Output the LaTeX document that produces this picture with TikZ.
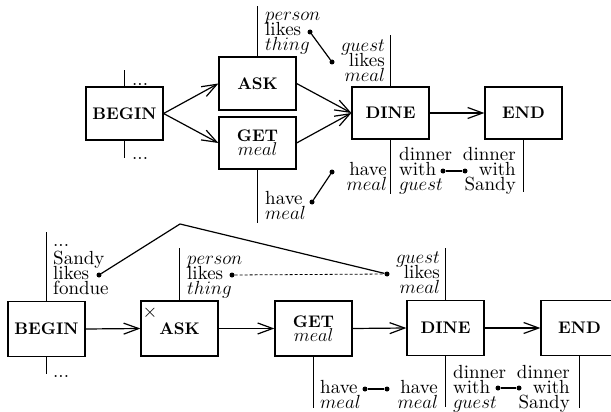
\RequirePackage{fix-cm}
\documentclass[tikz,border=0pt]{standalone}
\usepackage{fontspec}
\setmainfont{lmroman10-regular.otf}[BoldFont=lmroman10-bold.otf]
\usetikzlibrary{arrows.meta}
\newcommand\var[1]{{\fontencoding{OML}\fontfamily{cmm}\fontseries{m}\fontshape{it}\selectfont #1}}
\newcommand\lblfont{\fontsize{19}{15}\selectfont\lineskiplimit=-\maxdimen}
\newcommand\boxfont{\fontsize{16.8}{17}\selectfont\bfseries\lineskiplimit=-\maxdimen}
\newcommand\boxvar[1]{{\fontsize{18.5}{15}\selectfont\mdseries\var{#1}}}
\newcommand\ts{\rule{0pt}{13.5pt}}
\tikzset{
  box/.style={draw, line width=1.2pt, minimum width=77pt, minimum height=53pt, inner sep=0pt, font=\boxfont, align=center},
  lbl/.style={inner sep=0pt, font=\lblfont, anchor=north west, align=left},
  lblr/.style={inner sep=0pt, font=\lblfont, anchor=north east, align=right},
  dots/.style={inner sep=0pt, font=\lblfont, anchor=base west},
  dotn/.style={circle, fill, inner sep=0pt, minimum size=5pt},
  flow/.style={-{Straight Barb[length=15pt,width=11pt,line width=1.2pt]}, line width=1.2pt},
  tick/.style={line width=1.2pt},
  link/.style={line width=1.2pt},
  dlink/.style={line width=0.8pt, dash pattern=on 3pt off 2pt}
}
\begin{document}
\begin{tikzpicture}[x=1pt,y=-1pt]
\useasboundingbox (0,0) rectangle (611,412);
% ---------- top diagram ----------
\node[box] (BEGIN1) at (124.5,113.5) {BEGIN};
\node[box] (ASK1) at (257.5,83.5) {ASK};
\node[box, minimum height=52pt] (GET1) at (257.5,143) {GET\\[-3pt]\boxvar{meal}};
\node[box, minimum height=52pt] (DINE1) at (390.5,113) {DINE};
\node[box, minimum height=52pt] (END1) at (523.5,113) {END};

\draw[flow] (BEGIN1.east) -- (ASK1.west);
\draw[flow] (BEGIN1.east) -- (GET1.west);
\draw[flow] (ASK1.east) -- (DINE1.west);
\draw[flow] (GET1.east) -- (DINE1.west);
\draw[flow] (DINE1.east) -- (END1.west);

\draw[tick] (BEGIN1.north) -- +(0,-16);
\draw[tick] (BEGIN1.south) -- +(0,17);
\draw[tick] (ASK1.north) -- +(0,-50);
\draw[tick] (GET1.south) -- +(0,53);
\draw[tick] (DINE1.north) -- +(0,-51);
\draw[tick] (DINE1.south) -- +(0,54);
\draw[tick] (END1.south) -- +(0,52);

\node[dots] (bd1) at (132,86) {...};
\node[dots] (bd2) at (132,159) {...};
\node[lbl] (pA1) at (265,6.5) {\ts\var{person}\\likes\\\var{thing}};
\node[lblr] (gD1) at (385,38) {\ts\var{guest}\\likes\\\var{meal}};
\node[lbl] (hG1) at (265,191) {\ts have\\\var{meal}};
\node[lblr] (hD1) at (387,162) {\ts have\\\var{meal}};
\node[lbl] (wD1) at (399,147) {\ts dinner\\with\\\var{guest}};
\node[lblr] (wE1) at (516,147) {\ts dinner\\with\\Sandy};

\node[dotn] (d1) at (310,32) {};
\node[dotn] (d2) at (332,62) {};
\node[dotn] (d3) at (312,202) {};
\node[dotn] (d4) at (332,172) {};
\node[dotn] (d5) at (443,171) {};
\node[dotn] (d6) at (465,171) {};
\draw[link] (d1) -- (d2);
\draw[link] (d3) -- (d4);
\draw[link] (d5) -- (d6);

% ---------- bottom diagram ----------
\node[box, minimum height=55pt] (BEGIN2) at (46.5,329) {BEGIN};
\node[box, minimum height=55pt] (ASK2) at (179.5,328.5) {\raisebox{-3pt}{ASK}};
\node[box, minimum height=55pt] (GET2) at (313.5,328.5) {GET\\[-3pt]\boxvar{meal}};
\node[box, minimum height=55pt] (DINE2) at (445.5,328) {DINE};
\node[box, minimum height=55pt] (END2) at (579.5,328) {END};
\node[inner sep=0pt, font=\lblfont] (x2) at (150,313) {$\times$};

\draw[flow] (BEGIN2.east) -- (ASK2.west);
\draw[flow] (ASK2.east) -- (GET2.west);
\draw[flow] (GET2.east) -- (DINE2.west);
\draw[flow] (DINE2.east) -- (END2.west);

\draw[tick] (BEGIN2.north) -- +(0,-69);
\draw[tick] (BEGIN2.south) -- +(0,17);
\draw[tick] (ASK2.north) -- +(0,-52);
\draw[tick] (GET2.south) -- +(0,51);
\draw[tick] (DINE2.north) -- +(0,-52);
\draw[tick] (DINE2.south) -- +(0,51);
\draw[tick] (END2.south) -- +(0,52);

\node[dots] (bd3) at (53,246) {...};
\node[dots] (bd4) at (53,377) {...};
\node[lbl] (sB2) at (53,250.5) {\ts Sandy\\likes\\fondue};
\node[lbl] (pA2) at (187,250.5) {\ts\var{person}\\likes\\\var{thing}};
\node[lblr] (gD2) at (440,249.5) {\ts\var{guest}\\likes\\\var{meal}};
\node[lbl] (hG2) at (320,379.5) {\ts have\\\var{meal}};
\node[lblr] (hD2) at (438,379.5) {\ts have\\\var{meal}};
\node[lbl] (wD2) at (453,364.5) {\ts dinner\\with\\\var{guest}};
\node[lblr] (wE2) at (570,364.5) {\ts dinner\\with\\Sandy};

\node[dotn] (e1) at (99,275) {};
\node[dotn] (e2) at (232,275) {};
\node[dotn] (e3) at (387,274) {};
\coordinate (peak) at (180,224);
\node[dotn] (e4) at (365,389) {};
\node[dotn] (e5) at (387,389) {};
\node[dotn] (e6) at (498,388) {};
\node[dotn] (e7) at (519,388) {};
\draw[link] (e1) -- (peak) -- (e3);
\draw[dlink] (e2) -- (e3);
\draw[link] (e4) -- (e5);
\draw[link] (e6) -- (e7);
\end{tikzpicture}
\end{document}
